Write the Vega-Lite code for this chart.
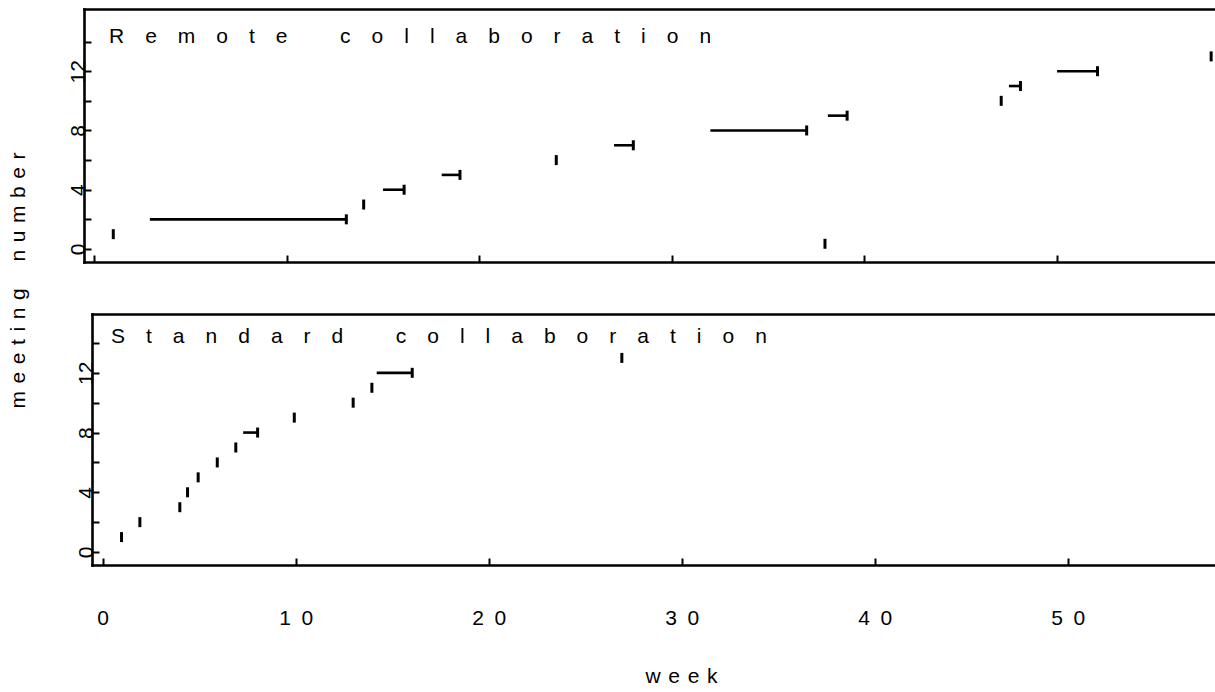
{
  "$schema": "https://vega.github.io/schema/vega-lite/v6.json",
  "background": "white",
  "padding": {"left": 7, "top": 9, "right": 0, "bottom": 0},
  "config": {
    "font": "Liberation Sans",
    "view": {"stroke": null},
    "axis": {
      "grid": false,
      "domainColor": "black",
      "domainWidth": 2.6,
      "domainCap": "square",
      "tickColor": "black",
      "tickWidth": 2,
      "tickSize": -7,
      "labelColor": "black",
      "labelFont": "Liberation Sans",
      "labelFontSize": 21,
      "titleFont": "Liberation Sans",
      "titleFontSize": 21,
      "titleFontWeight": "normal",
      "titleColor": "black"
    }
  },
  "title": {
    "text": "m \u200Ae \u200Ae \u200At \u200Ai \u200An \u200Ag\u2002 \u2002n \u200Au \u200Am \u200Ab \u200Ae \u200Ar",
    "orient": "left",
    "anchor": "middle",
    "font": "Liberation Sans",
    "fontSize": 21,
    "fontWeight": "normal",
    "color": "black",
    "offset": 38,
    "dx": 67
  },
  "datasets": {
    "remote": [
      {"meeting": 1, "start": 1.0, "end": 1.0},
      {"meeting": 2, "start": 2.9, "end": 13.1},
      {"meeting": 3, "start": 14.0, "end": 14.0},
      {"meeting": 4, "start": 15.0, "end": 16.1},
      {"meeting": 5, "start": 18.05, "end": 19.0},
      {"meeting": 6, "start": 24.0, "end": 24.0},
      {"meeting": 7, "start": 27.0, "end": 28.0},
      {"meeting": 8, "start": 32.0, "end": 37.0},
      {"meeting": 9, "start": 38.1, "end": 39.1},
      {"meeting": 0.35, "start": 37.95, "end": 37.95},
      {"meeting": 10, "start": 47.1, "end": 47.1},
      {"meeting": 11, "start": 47.5, "end": 48.1},
      {"meeting": 12, "start": 50.0, "end": 52.1},
      {"meeting": 13, "start": 58.0, "end": 58.0}
    ],
    "standard": [
      {"meeting": 1, "start": 0.98, "end": 0.98},
      {"meeting": 2, "start": 1.93, "end": 1.93},
      {"meeting": 3, "start": 4.0, "end": 4.0},
      {"meeting": 4, "start": 4.4, "end": 4.4},
      {"meeting": 5, "start": 4.95, "end": 4.95},
      {"meeting": 6, "start": 5.94, "end": 5.94},
      {"meeting": 7, "start": 6.9, "end": 6.9},
      {"meeting": 8, "start": 7.28, "end": 8.03},
      {"meeting": 9, "start": 9.93, "end": 9.93},
      {"meeting": 10, "start": 12.98, "end": 12.98},
      {"meeting": 11, "start": 13.95, "end": 13.95},
      {"meeting": 12, "start": 14.2, "end": 16.04},
      {"meeting": 13, "start": 26.9, "end": 26.9}
    ]
  },
  "spacing": 51,
  "vconcat": [
    {
      "data": {"name": "remote"},
      "width": 1131,
      "height": 253,
      "title": {
        "text": "R\u2003e\u2003m\u2003o\u2003t\u2003e\u2003\u2002\u2003c\u2003o\u2003l\u2003l\u2003a\u2003b\u2003o\u2003r\u2003a\u2003t\u2003i\u2003o\u2003n",
        "orient": "top",
        "anchor": "start",
        "frame": "group",
        "offset": -33,
        "dx": 25,
        "dy": 22,
        "baseline": "alphabetic",
        "font": "Liberation Sans",
        "fontSize": 21,
        "fontWeight": "normal",
        "color": "black"
      },
      "encoding": {
        "y": {
          "field": "meeting",
          "type": "quantitative",
          "scale": {"domain": [-0.88, 16.2], "nice": false, "zero": false},
          "axis": {
            "title": null,
            "values": [0, 2, 4, 6, 8, 10, 12, 14],
            "labelExpr": "datum.value % 4 === 0 ? datum.label : ''",
            "labelAngle": -90,
            "labelPadding": 3
          }
        }
      },
      "layer": [
        {
          "mark": {"type": "rule", "color": "black", "strokeWidth": 2.6},
          "encoding": {
            "x": {
              "field": "start",
              "type": "quantitative",
              "scale": {"domain": [-0.52, 58.2], "nice": false, "zero": false, "range": [0, 1131]},
              "axis": {"orient": "bottom", "title": null, "values": [0, 10, 20, 30, 40, 50], "labels": false}
            },
            "x2": {"field": "end"}
          }
        },
        {
          "mark": {"type": "tick", "orient": "vertical", "color": "black", "opacity": 1, "size": 10, "thickness": 3},
          "encoding": {
            "x": {
              "field": "end",
              "type": "quantitative",
              "axis": {"orient": "top", "title": null, "ticks": false, "labels": false}
            }
          }
        }
      ],
      "resolve": {"axis": {"x": "independent"}}
    },
    {
      "data": {"name": "standard"},
      "width": 1131,
      "height": 251,
      "title": {
        "text": "S\u2003t\u2003a\u2003n\u2003d\u2003a\u2003r\u2003d\u2003\u2002\u2003c\u2003o\u2003l\u2003l\u2003a\u2003b\u2003o\u2003r\u2003a\u2003t\u2003i\u2003o\u2003n",
        "orient": "top",
        "anchor": "start",
        "frame": "group",
        "offset": -30,
        "dx": 27,
        "dy": 20,
        "baseline": "alphabetic",
        "font": "Liberation Sans",
        "fontSize": 21,
        "fontWeight": "normal",
        "color": "black"
      },
      "encoding": {
        "y": {
          "field": "meeting",
          "type": "quantitative",
          "scale": {"domain": [-0.87, 15.94], "nice": false, "zero": false},
          "axis": {
            "title": null,
            "offset": -8,
            "values": [0, 2, 4, 6, 8, 10, 12, 14],
            "labelExpr": "datum.value % 4 === 0 ? datum.label : ''",
            "labelAngle": -90,
            "labelPadding": 3
          }
        }
      },
      "layer": [
        {
          "mark": {"type": "rule", "color": "black", "strokeWidth": 2.6},
          "encoding": {
            "x": {
              "field": "start",
              "type": "quantitative",
              "scale": {"domain": [-0.55, 57.63], "nice": false, "zero": false, "range": [8, 1131]},
              "axis": {
                "orient": "bottom",
                "title": "w \u200Ae \u200Ae \u200Ak",
                "titleX": 597,
                "titlePadding": 37,
                "values": [0, 10, 20, 30, 40, 50],
                "labelPadding": 49,
                "labelExpr": "join(split(datum.label, ''), '\u2002')"
              }
            },
            "x2": {"field": "end"}
          }
        },
        {
          "mark": {"type": "tick", "orient": "vertical", "color": "black", "opacity": 1, "size": 10, "thickness": 3},
          "encoding": {
            "x": {
              "field": "end",
              "type": "quantitative",
              "axis": {"orient": "top", "title": null, "ticks": false, "labels": false}
            }
          }
        }
      ],
      "resolve": {"axis": {"x": "independent"}}
    }
  ]
}
